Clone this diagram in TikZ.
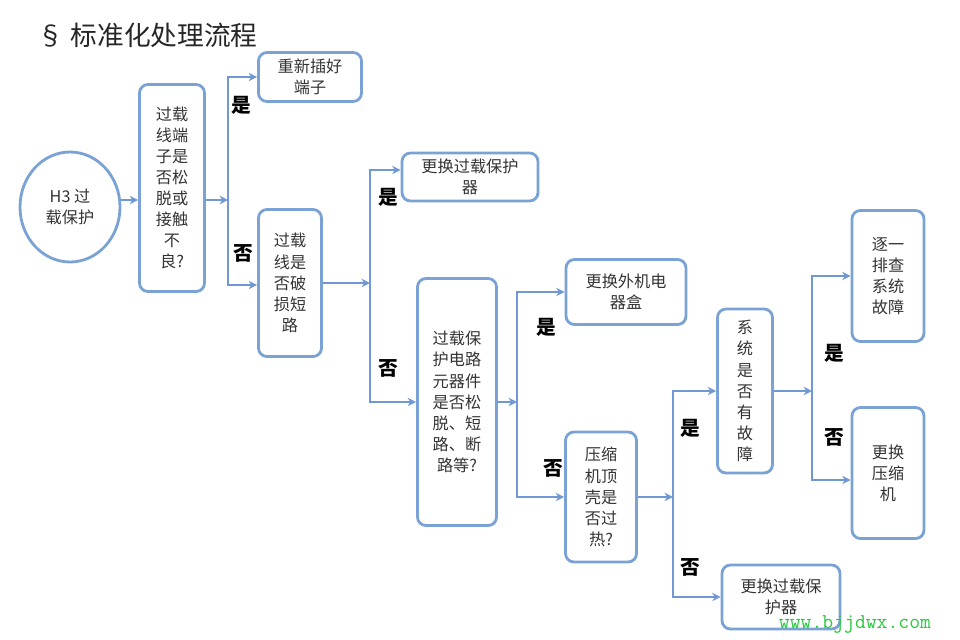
\documentclass[tikz,border=0pt]{standalone}
\usepackage{fontspec}
\setmainfont{Noto Sans CJK SC}
\usetikzlibrary{arrows.meta,shapes.geometric,calc}
\definecolor{lineblue}{RGB}{112,152,212}
\definecolor{boxblue}{RGB}{122,162,212}
\definecolor{wmgreen}{RGB}{40,200,60}

\begin{document}
\begin{tikzpicture}[x=0.025cm, y=-0.025cm,
        sz/.style 2 args={minimum width={#1*0.025cm}, minimum height={#2*0.025cm}},
        box/.style={draw=boxblue, line width=2pt, rounded corners=6pt, align=center,
            inner sep=1pt, font=\fontsize{11.5}{15}\selectfont, text=black!80},
        arr/.style={draw=lineblue, line width=2pt, -{Stealth[length=6pt,width=6pt]}},
        yn/.style={font=\fontsize{14}{14}\selectfont\bfseries}]
        \useasboundingbox (0,0) rectangle (960,639);
        \node[anchor=west, font=\fontsize{19}{19}\selectfont, text=black!85] (title) at (33,35) {§ 标准化处理流程};

        \node[draw=boxblue, line width=2pt, ellipse, inner sep=0pt, sz={100}{110}, align=center,
            font=\fontsize{11.5}{15}\selectfont, text=black!80] (start) at (70,207) {H3 过\\载保护};
        \node[box, sz={65}{207}] (q1) at (172,188) {过载\\线端\\子是\\否松\\脱或\\接触\\不\\良?};
        \node[box, sz={103}{49}] (a1) at (310,77) {重新插好\\端子};
        \node[box, sz={63}{147}] (q2) at (290,283) {过载\\线是\\否破\\损短\\路};
        \node[box, sz={136}{48}] (a2) at (470,177) {更换过载保护\\器};
        \node[box, sz={79}{247}] (q3) at (457,402) {过载保\\护电路\\元器件\\是否松\\脱、短\\路、断\\路等?};
        \node[box, sz={120}{65}] (a3) at (626,292) {更换外机电\\器盒};
        \node[box, sz={71}{130}] (q4) at (601,497) {压缩\\机顶\\壳是\\否过\\热?};
        \node[box, sz={55}{164}] (q5) at (745,391) {系\\统\\是\\否\\有\\故\\障};
        \node[box, sz={72}{131}] (a5) at (888,276) {逐一\\排查\\系统\\故障};
        \node[box, sz={72}{131}] (b5) at (888,473) {更换\\压缩\\机};
        \node[box, sz={118}{64}] (b4) at (781,597) {更换过载保\\护器};

        % junctions
        \coordinate (j1) at (228,200);
        \coordinate (j2) at (370,283);
        \coordinate (j3) at (517,402);
        \coordinate (j4) at (673,497);
        \coordinate (j5) at (812,391);

        \draw[arr] (start.east |- j1) -- (q1.west |- j1);
        \draw[arr] (q1.east |- j1) -- (j1);
        \draw[arr] (j1) |- (a1.west);
        \draw[arr] (j1) |- ($(q2.west)+(0,2)$);
        \draw[arr] (q2) -- (j2);
        \draw[arr] (j2) |- ($(a2.west)+(0,-7)$);
        \draw[arr] (j2) |- (q3.west);
        \draw[arr] (q3) -- (j3);
        \draw[arr] (j3) |- (a3.west);
        \draw[arr] (j3) |- (q4.west);
        \draw[arr] (q4) -- (j4);
        \draw[arr] (j4) |- (q5.west);
        \draw[arr] (j4) |- (b4.west);
        \draw[arr] (q5) -- (j5);
        \draw[arr] (j5) |- (a5.west);
        \draw[arr] (j5) |- ($(b5.west)+(0,7)$);

        \node[yn] (y1) at (241,105) {是};
        \node[yn] (n1) at (243,253) {否};
        \node[yn] (y2) at (388,197) {是};
        \node[yn] (n2) at (388,368) {否};
        \node[yn] (y3) at (546,327) {是};
        \node[yn] (n3) at (553,468) {否};
        \node[yn] (y4) at (690,428) {是};
        \node[yn] (n4) at (690,567) {否};
        \node[yn] (y5) at (834,353) {是};
        \node[yn] (n5) at (834,437) {否};

        \node[font=\fontsize{15}{15}\selectfont\ttfamily, text=wmgreen] (wm) at (855,624) {www.bjjdwx.com};
\end{tikzpicture}
\end{document}
